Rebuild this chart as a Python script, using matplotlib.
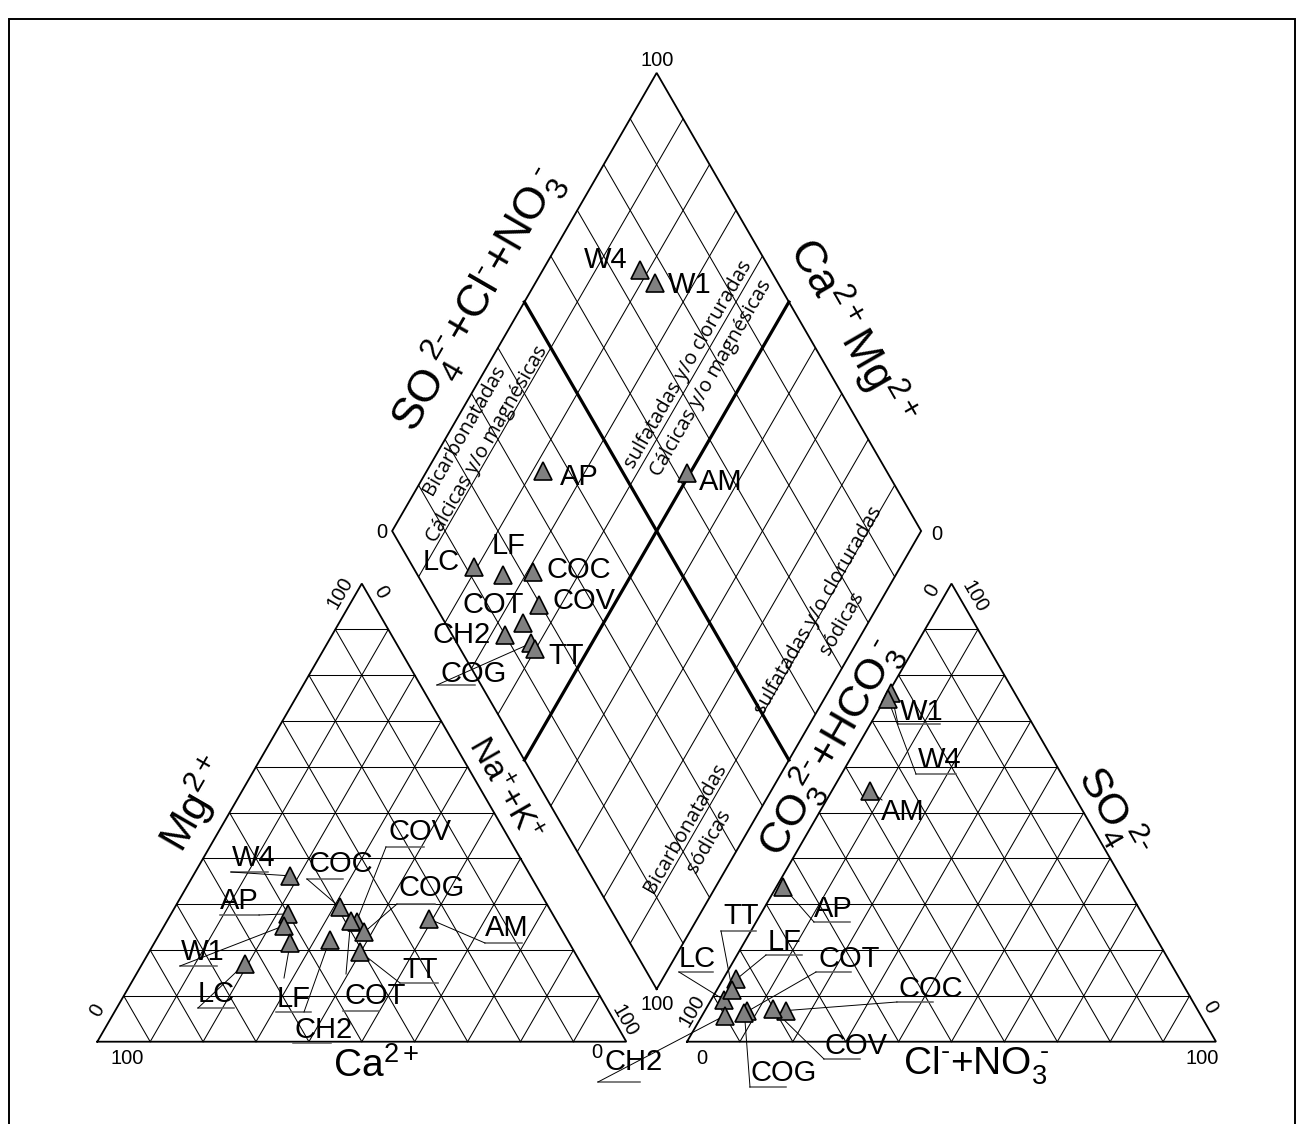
import numpy as np
import matplotlib
matplotlib.use("Agg")
import matplotlib.pyplot as plt

# ---------------- data (% meq/L) ----------------
samples = ["AM", "AP", "W1", "W4", "LC", "LF", "COC", "COV", "COT", "CH2", "COG", "TT"]
ca     = [23.9, 50.0, 52.1, 45.4, 63.6, 52.8, 39.5, 37.9, 38.9, 44.9, 37.6, 40.5]
mg     = [26.8, 27.9, 25.3, 36.2, 17.0, 21.5, 29.4, 26.2, 26.4, 22.3, 23.9, 19.6]
na_k   = [49.3, 22.1, 22.6, 18.4, 19.4, 25.7, 31.1, 35.9, 34.7, 32.8, 38.5, 39.9]
hco3   = [38.0, 64.9, 23.3, 24.6, 88.4, 83.9, 77.8, 80.2, 85.3, 90.0, 86.0, 85.8]
so4    = [54.7, 33.8, 76.2, 74.9,  9.1, 13.6,  6.8,  7.2,  6.6,  5.7,  6.3, 11.3]
cl_no3 = [ 7.3,  1.3,  0.5,  0.5,  2.5,  2.5, 15.4, 12.6,  8.1,  4.3,  7.7,  2.9]

tick_lo, tick_hi = "0", "100"
region_labels = [
    "Bicarbonatadas\nCálcicas y/o magnésicas",
    "sulfatadas y/o cloruradas\nCálcicas y/o magnésicas",
    "sulfatadas y/o cloruradas\nsódicas",
    "Bicarbonatadas\nsódicas",
]

# ---------------- layout (pixel space, y downwards) ----------------
W, H = 1304, 1124
X0, YB = 97.3, 1041.7          # left vertex of cation triangle / common base line
SIDE = 529.0
GAP = 60.7
HT = SIDE * np.sqrt(3) / 2
X0R = X0 + SIDE + GAP          # left vertex of anion triangle

plt.rcParams["font.family"] = ["Liberation Sans", "DejaVu Sans"]
plt.rcParams["mathtext.fontset"] = "custom"
plt.rcParams["mathtext.rm"] = "Liberation Sans"
plt.rcParams["mathtext.it"] = "Liberation Sans:italic"
plt.rcParams["mathtext.bf"] = "Liberation Sans:bold"

fig = plt.figure(figsize=(W / 100, H / 100), dpi=100)
ax = fig.add_axes([0, 0, 1, 1])
ax.set_xlim(0, W)
ax.set_ylim(H, 0)
ax.axis("off")

# outer frame
ax.plot([9, 9, 1295, 1295], [H + 5, 19, 19, H + 5], color="black", lw=1.4,
        solid_joinstyle="miter")

GRID_LW = 0.75
EDGE_LW = 1.3


def cation_xy(c_mg, c_na):
    c_mg = np.asarray(c_mg) / 100.0
    c_na = np.asarray(c_na) / 100.0
    return X0 + SIDE * (c_na + c_mg / 2), YB - HT * c_mg


def anion_xy(a_so4, a_cl):
    a_so4 = np.asarray(a_so4) / 100.0
    a_cl = np.asarray(a_cl) / 100.0
    return X0R + SIDE * (a_cl + a_so4 / 2), YB - HT * a_so4


B = np.array([X0 + SIDE + GAP / 2, YB - HT * GAP / SIDE])
EL = SIDE * np.array([-0.5, -np.sqrt(3) / 2])
ER = SIDE * np.array([0.5, -np.sqrt(3) / 2])


def diamond_xy(cat_sum, an_sum):
    u = np.asarray(cat_sum) / 100.0
    v = np.asarray(an_sum) / 100.0
    return B[0] + u * EL[0] + v * ER[0], B[1] + u * EL[1] + v * ER[1]


def seg(p, q, **kw):
    ax.plot([p[0], q[0]], [p[1], q[1]], **kw)


def triangle(x0):
    A = np.array([x0, YB])
    Bv = np.array([x0 + SIDE, YB])
    C = np.array([x0 + SIDE / 2, YB - HT])
    for k in range(1, 10):
        t = k / 10
        seg(A + t * (C - A), Bv + t * (C - Bv), color="black", lw=GRID_LW)
        seg(A + t * (Bv - A), C + t * (Bv - C), color="black", lw=GRID_LW)
        seg(A + t * (Bv - A), A + t * (C - A), color="black", lw=GRID_LW)
    ax.plot([A[0], Bv[0], C[0], A[0]], [A[1], Bv[1], C[1], A[1]],
            color="black", lw=EDGE_LW, solid_joinstyle="miter")


triangle(X0)
triangle(X0R)

# diamond grid
for k in range(1, 10):
    t = k / 10
    seg(B + t * ER, B + t * ER + EL, color="black", lw=GRID_LW)
    seg(B + t * EL, B + t * EL + ER, color="black", lw=GRID_LW)
Lc, Rc, Tc = B + EL, B + ER, B + EL + ER
ax.plot([B[0], Lc[0], Tc[0], Rc[0], B[0]], [B[1], Lc[1], Tc[1], Rc[1], B[1]],
        color="black", lw=EDGE_LW, solid_joinstyle="miter")
seg(B + 0.5 * ER, B + 0.5 * ER + EL, color="black", lw=2.3)
seg(B + 0.5 * EL, B + 0.5 * EL + ER, color="black", lw=2.3)

# ---------------- samples ----------------
cx, cy = cation_xy(mg, na_k)
axx, ayy = anion_xy(so4, cl_no3)
dx, dy = diamond_xy(np.add(ca, mg), np.add(so4, cl_no3))

MK = dict(marker="^", ms=13, mfc="#808080", mec="black", mew=1.2, ls="none", zorder=5)
ax.plot(cx, cy, **MK)
ax.plot(axx, ayy, **MK)
ax.plot(dx, dy, **MK)

LBL_FS = 21
# label placement: text left/baseline, underline (x1, x2, y), leader start
cation_lbl = {
    "W4": (232, 866, (231, 268, 872), "ul"),
    "COC": (308, 872, (307, 343, 879), "ul"),
    "COV": (388, 840, (386, 424, 847), "ul"),
    "COG": (399, 896, (397, 435, 904), "ul"),
    "AM": (485, 936, (485, 522, 943), "ul"),
    "TT": (402, 978, (400, 438, 983), "ul"),
    "COT": (344, 1004, (343, 379, 1011), (346, 974)),
    "CH2": (295, 1038, (293, 331, 1043), (304, 1012)),
    "LF": (277, 1007, (276, 311, 1012), (284, 978)),
    "LC": (198, 1002, (198, 234, 1008), "ul"),
    "W1": (181, 960, (180, 217, 966), "ul"),
    "AP": (220, 909, (220, 259, 915), "ur"),
}
diamond_lbl = {
    "LC": (423, 570, None, None),
    "LF": (492, 554, None, None),
    "COC": (547, 578, None, None),
    "COT": (462, 613, None, None),
    "COV": (553, 609, None, None),
    "CH2": (433, 643, None, None),
    "TT": (548, 664, None, None),
    "COG": (440, 682, (437, 475, 685), "ul"),
    "W4": (584, 268, None, None),
    "W1": (668, 293, None, None),
    "AP": (560, 485, None, None),
    "AM": (699, 490, None, None),
}
anion_lbl = {
    "W1": (900, 720, (898, 940, 724), "ul"),
    "W4": (918, 768, (916, 956, 774), "ul"),
    "AM": (881, 820, None, (882, 800)),
    "AP": (814, 917, (814, 850, 922), "ul"),
    "TT": (723, 924, (721, 756, 931), "ul"),
    "LC": (679, 967, (679, 713, 972), "ul"),
    "LF": (768, 950, (766, 802, 955), "ul"),
    "COT": (818, 967, (816, 851, 972), "ul"),
    "COC": (899, 997, (897, 933, 1002), "ul"),
    "COV": (825, 1054, (824, 860, 1059), "ul"),
    "COG": (750, 1081, (750, 786, 1087), "ul"),
    "CH2": (605, 1070, (598, 640, 1082), "ul"),
}


def put_labels(table, px, py):
    for i, name in enumerate(samples):
        tx, ty, ul, lead = table[name]
        ax.text(tx, ty, name, fontsize=LBL_FS, ha="left", va="baseline", zorder=6)
        if ul is not None:
            seg((ul[0], ul[2]), (ul[1], ul[2]), color="0.35", lw=1.1, zorder=4)
        if lead is not None:
            if lead == "ul":
                start = (ul[0], ul[2])
            elif lead == "ur":
                start = (ul[1], ul[2])
            else:
                start = lead
            seg(start, (px[i], py[i]), color="black", lw=0.7, zorder=4)


put_labels(cation_lbl, cx, cy)
put_labels(diamond_lbl, dx, dy)
put_labels(anion_lbl, axx, ayy)

# ---------------- tick labels ----------------
TFS = 14.5
ticks = [
    (340, 593, tick_hi, 60), (381, 592, tick_lo, -60),
    (97, 1010, tick_lo, 60), (127, 1058, tick_hi, 0),
    (597, 1052, tick_lo, 0), (625, 1021, tick_hi, -60),
    (692, 1011, tick_hi, 60), (702, 1058, tick_lo, 0),
    (1202, 1058, tick_hi, 0), (1210, 1007, tick_lo, -60),
    (932, 590, tick_lo, 60), (975, 597, tick_hi, -60),
    (657, 60, tick_hi, 0), (382, 533, tick_lo, 0),
    (937, 535, tick_lo, 0), (657, 1004, tick_hi, 0),
]
for x, y, s, r in ticks:
    ax.text(x, y, s, fontsize=TFS, ha="center", va="center", rotation=r,
            rotation_mode="anchor")

# ---------------- axis titles ----------------
M = r"\text{-}"
titles = [
    (376, 1066, r"$\mathrm{Ca^{2+}}$", 0, 28),
    (976, 1066, r"$\mathrm{Cl^{" + M + r"}{+}NO_3^{\ " + M + r"}}$", 0, 28),
    (196, 804, r"$\mathrm{Mg^{2+}}$", 60, 31),
    (503, 790, r"$\mathrm{Na^{+}{+}K^{+}}$", -60, 24),
    (478, 300, r"$\mathrm{SO_4^{\ 2" + M + r"}{+}Cl^{" + M + r"}{+}NO_3^{\ " + M + r"}}$", 60, 32),
    (852, 332, r"$\mathrm{Ca^{2+}Mg^{2+}}$", -60, 32),
    (830, 749, r"$\mathrm{CO_3^{\ 2" + M + r"}{+}HCO_3^{\ " + M + r"}}$", 60, 31),
    (1112, 813, r"$\mathrm{SO_4^{\ 2" + M + r"}}$", -60, 31),
]
for x, y, s, r, fs in titles:
    ax.text(x, y, s, fontsize=fs, ha="center", va="center", rotation=r,
            rotation_mode="anchor")

# ---------------- hydrochemical facies in the diamond ----------------
region_pos = [(476, 437), (700, 371), (830, 617), (697, 835)]
for (x, y), s in zip(region_pos, region_labels):
    ax.text(x, y, s, fontsize=14.5, family=["Open Sans", "DejaVu Sans"],
            ha="center", va="center", ma="center", rotation=60,
            rotation_mode="anchor", linespacing=1.45)

fig.savefig("out.png", dpi=100)
